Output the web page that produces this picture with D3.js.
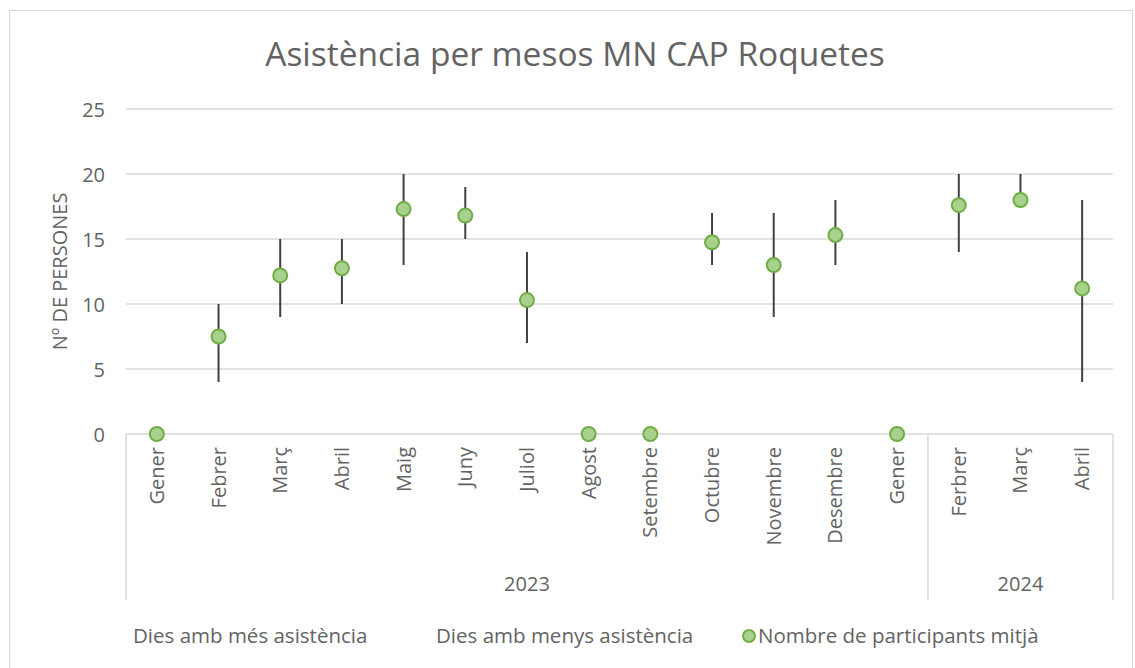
<!DOCTYPE html>
<html>
<head>
<meta charset="utf-8">
<script src="https://cdn.jsdelivr.net/npm/d3@7"></script>
<style>
  html, body { margin: 0; padding: 0; background: #fff; }
  svg { display: block; }
  text { font-family: "Open Sans", Lato, sans-serif; fill: #636363; }
</style>
</head>
<body>
<svg id="chart" width="1135" height="668"></svg>
<script>
// Months shown on the category axis (two levels: month, year)
const months = ["Gener", "Febrer", "Març", "Abril", "Maig", "Juny", "Juliol", "Agost",
                "Setembre", "Octubre", "Novembre", "Desembre", "Gener",
                "Ferbrer", "Març", "Abril"];
const years = [
  { label: "2023", from: 0, to: 13 },
  { label: "2024", from: 13, to: 16 }
];
// Days with most attendance (high), fewest attendance (low), average participants
const highValues = [null, 10, 15, 15, 20, 19, 14, null, null, 17, 17, 18, null, 20, 20, 18];
const lowValues  = [null, 4, 9, 10, 13, 15, 7, null, null, 13, 9, 13, null, 14, 18, 4];
const meanValues = [0, 7.5, 12.2, 12.75, 17.3, 16.8, 10.3, 0, 0, 14.75, 13, 15.3, 0, 17.6, 18, 11.2];
const yTicks = [0, 5, 10, 15, 20, 25];

const seriesNames = ["Dies amb més asistència", "Dies amb menys asistència", "Nombre de participants mitjà"];

const svg = d3.select("#chart");
const plot = { left: 126, right: 1113, top: 109, bottom: 434 };
const FS = "20px";
const LFS = "20.5px";

// Outer chart frame
svg.append("rect")
  .attr("x", 9.5).attr("y", 10.5).attr("width", 1123).attr("height", 680)
  .attr("fill", "none").attr("stroke", "#d9d9d9").attr("stroke-width", 1);

// Title
svg.append("text")
  .attr("x", 575).attr("y", 66)
  .attr("text-anchor", "middle")
  .style("font-size", "33.5px")
  .text("Asistència per mesos MN CAP Roquetes");

const idx = d3.range(months.length);
const x = d3.scaleBand().domain(idx).range([plot.left, plot.right]).padding(0);
const y = d3.scaleLinear().domain([0, 25]).range([plot.bottom, plot.top]);

// Horizontal gridlines
svg.append("g").selectAll("line")
  .data(yTicks.filter(t => t > 0))
  .join("line")
  .attr("x1", plot.left).attr("x2", plot.right)
  .attr("y1", d => y(d)).attr("y2", d => y(d))
  .attr("stroke", "#d9d9d9").attr("stroke-width", 1.5);

// Value axis labels
const yAxis = svg.append("g")
  .attr("transform", `translate(${plot.left - 21},0)`)
  .call(d3.axisLeft(y).tickValues(yTicks).tickSize(0).tickPadding(0));
yAxis.select(".domain").remove();
yAxis.selectAll("text")
  .style("font-size", FS).style("font-family", "'Open Sans', Lato, sans-serif")
  .attr("fill", "#636363").attr("dy", "0.35em");

// Value axis title
svg.append("text")
  .attr("transform", `translate(67,${(plot.top + plot.bottom) / 2}) rotate(-90)`)
  .attr("text-anchor", "middle")
  .style("font-size", FS)
  .text("Nº DE PERSONES");

// Category axis: baseline and group dividers
const axisBottom = 600;
const g = svg.append("g");
g.append("line")
  .attr("x1", plot.left).attr("x2", plot.right)
  .attr("y1", plot.bottom).attr("y2", plot.bottom)
  .attr("stroke", "#d9d9d9").attr("stroke-width", 1.5);
const dividers = [0].concat(years.map(d => d.to));
g.selectAll("line.div")
  .data(dividers)
  .join("line").attr("class", "div")
  .attr("x1", d => d === months.length ? plot.right : x(d))
  .attr("x2", d => d === months.length ? plot.right : x(d))
  .attr("y1", plot.bottom).attr("y2", axisBottom)
  .attr("stroke", "#d9d9d9").attr("stroke-width", 1.5);

// Month labels (rotated)
g.selectAll("text.month")
  .data(idx)
  .join("text").attr("class", "month")
  .attr("transform", d => `translate(${x(d) + x.bandwidth() / 2 + 7},${plot.bottom + 13}) rotate(-90)`)
  .attr("text-anchor", "end")
  .style("font-size", FS)
  .text(d => months[d]);

// Year labels
g.selectAll("text.year")
  .data(years)
  .join("text").attr("class", "year")
  .attr("x", d => (x(d.from) + (d.to === months.length ? plot.right : x(d.to))) / 2)
  .attr("y", 591)
  .attr("text-anchor", "middle")
  .style("font-size", FS)
  .text(d => d.label);

// High-low lines
svg.append("g").selectAll("line")
  .data(idx.filter(i => highValues[i] != null && lowValues[i] != null))
  .join("line")
  .attr("x1", i => x(i) + x.bandwidth() / 2)
  .attr("x2", i => x(i) + x.bandwidth() / 2)
  .attr("y1", i => y(highValues[i]))
  .attr("y2", i => y(lowValues[i]))
  .attr("stroke", "#404040").attr("stroke-width", 2);

// Average markers
svg.append("g").selectAll("circle")
  .data(idx)
  .join("circle")
  .attr("cx", i => x(i) + x.bandwidth() / 2)
  .attr("cy", i => y(meanValues[i]))
  .attr("r", 7)
  .attr("fill", "#a9d18e")
  .attr("stroke", "#70ad47").attr("stroke-width", 2);

// Legend
const legendY = 636;
svg.append("text").attr("x", 133).attr("y", legendY + 7)
  .style("font-size", LFS).text(seriesNames[0]);
svg.append("text").attr("x", 436).attr("y", legendY + 7)
  .style("font-size", LFS).text(seriesNames[1]);
svg.append("circle").attr("cx", 749).attr("cy", legendY)
  .attr("r", 6).attr("fill", "#a9d18e").attr("stroke", "#70ad47").attr("stroke-width", 2);
svg.append("text").attr("x", 758).attr("y", legendY + 7)
  .style("font-size", LFS).text(seriesNames[2]);
</script>
</body>
</html>
